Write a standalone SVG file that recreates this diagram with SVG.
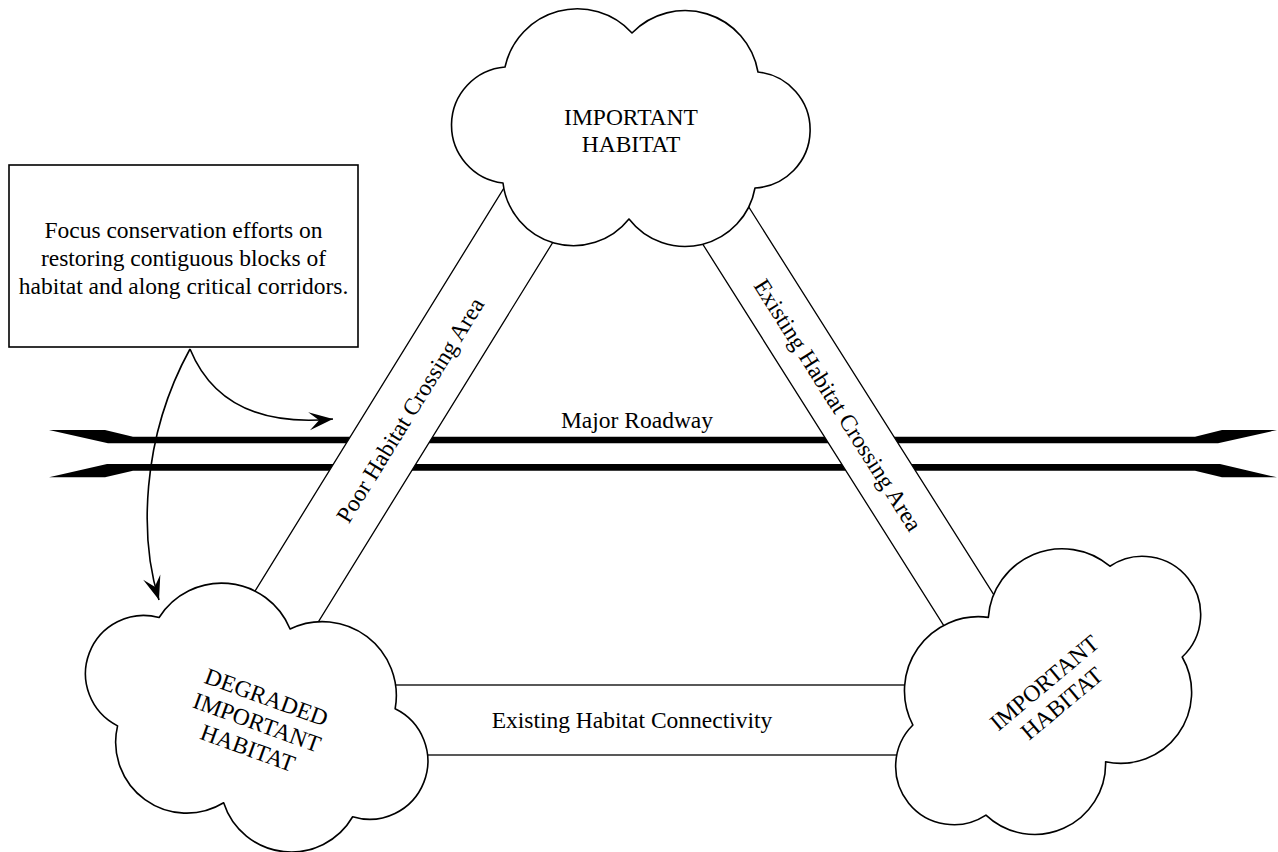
<svg xmlns="http://www.w3.org/2000/svg" width="1278" height="852" viewBox="0 0 1278 852">
  <style>
    .t { font-family: "Liberation Serif", "Times New Roman", serif; font-size: 23.5px; fill: #000; text-anchor: middle; }
    .cloud { fill: #fff; stroke: #000; stroke-width: 1.6; stroke-linejoin: round; }
    .corr { fill: #fff; stroke: #000; stroke-width: 1.3; }
    .arrow { fill: none; stroke: #000; stroke-width: 1.6; marker-end: url(#head); }
    .road { fill: #000; stroke: none; }
    .box { fill: #fff; stroke: #000; stroke-width: 1.6; }
  </style>
  <defs>
    <path id="cloudShape" d="M -126,-60 A 74 74 0 0 1 1,-94 A 74 74 0 0 1 127,-55 A 58.2 58.2 0 0 1 124,61 A 71 71 0 0 1 -2,92 A 71 71 0 0 1 -128,56 A 58.3 58.3 0 0 1 -126,-60 Z"/>
    <marker id="head" markerUnits="userSpaceOnUse" markerWidth="30" markerHeight="24" viewBox="-26 -12 28 24" refX="0" refY="0" orient="auto">
      <path d="M0,0 L-24,-9 L-14,0 L-24,9 Z" fill="#000"/>
    </marker>
  </defs>
  <rect width="1278" height="852" fill="#fff"/>

  <g id="roadway">
    <path class="road" d="M49,430 L105,430 L133,436.7 L1195,436.7 L1222,430 L1277,430 L1218,443.3 L108,443.3 Z"/>
    <path class="road" d="M49,477.3 L105,477.3 L133,470.7 L1195,470.7 L1222,477.3 L1277,477.3 L1220,464 L107,464 Z"/>
    <text class="t" x="637" y="428">Major Roadway</text>
  </g>

  <g id="connectors">
    <g id="poor-crossing">
      <polygon class="corr" points="218.6,650 527.4,150 609.9,150 300.9,650"/>
      <text class="t" transform="translate(410,410) rotate(-58.3)" x="0" y="8">Poor Habitat Crossing Area</text>
    </g>
    <g id="existing-crossing">
      <polygon class="corr" points="662.2,180 731.7,180 1047.7,680 978.2,680"/>
      <text class="t" transform="translate(838,405) rotate(57.7)" x="0" y="8">Existing Habitat Crossing Area</text>
    </g>
    <g id="existing-connectivity">
      <rect class="corr" x="350" y="685" width="600" height="70"/>
      <text class="t" x="632" y="728">Existing Habitat Connectivity</text>
    </g>
    <path id="arrow-to-road" class="arrow" d="M190,349 C215,410 270,425 333,419"/>
    <path id="arrow-to-degraded" class="arrow" d="M190,349 C140,440 140,540 159,600"/>
  </g>

  <g id="note">
    <rect class="box" x="9" y="165" width="349" height="182"/>
    <text class="t" x="183.5" y="238">Focus conservation efforts on</text>
    <text class="t" x="183.5" y="266">restoring contiguous blocks of</text>
    <text class="t" x="183.5" y="294">habitat and along critical corridors.</text>
  </g>

  <g id="cloud-top" transform="translate(631,127)">
    <use href="#cloudShape" class="cloud"/>
    <text class="t" x="0" y="-2">IMPORTANT</text>
    <text class="t" x="0" y="25">HABITAT</text>
  </g>

  <g id="cloud-degraded" transform="translate(257,717) rotate(20)">
    <use href="#cloudShape" class="cloud"/>
    <text class="t" x="2" y="-14">DEGRADED</text>
    <text class="t" x="2" y="13">IMPORTANT</text>
    <text class="t" x="2" y="40">HABITAT</text>
  </g>

  <g id="cloud-right" transform="translate(1048,690) rotate(-40)">
    <use href="#cloudShape" class="cloud"/>
    <text class="t" x="2" y="0">IMPORTANT</text>
    <text class="t" x="2" y="27">HABITAT</text>
  </g>
</svg>
